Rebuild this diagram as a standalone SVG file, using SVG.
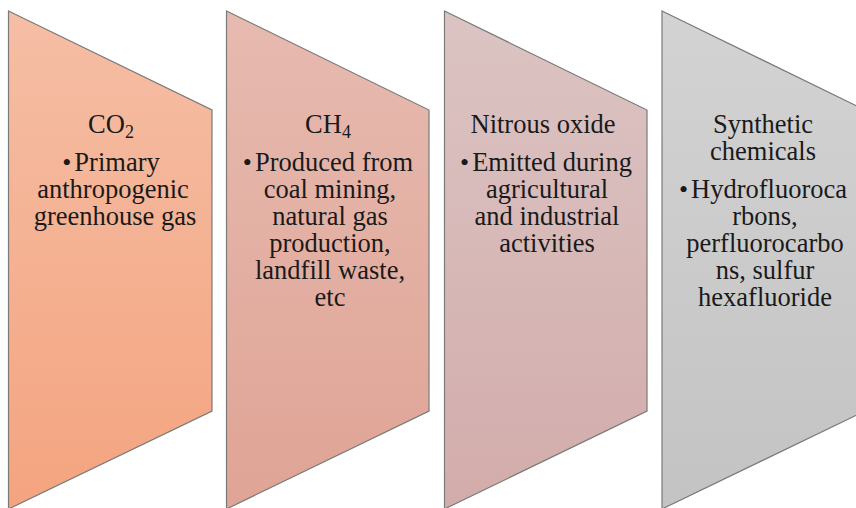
<svg xmlns="http://www.w3.org/2000/svg" width="856" height="508" viewBox="0 0 856 508">
<defs>
<linearGradient id="g1" x1="0" y1="0" x2="0" y2="1"><stop offset="0" stop-color="#F5BEA5"/><stop offset="1" stop-color="#F4A47F"/></linearGradient>
<linearGradient id="g2" x1="0" y1="0" x2="0" y2="1"><stop offset="0" stop-color="#E7BAB0"/><stop offset="1" stop-color="#DFA495"/></linearGradient>
<linearGradient id="g3" x1="0" y1="0" x2="0" y2="1"><stop offset="0" stop-color="#DBC4C3"/><stop offset="1" stop-color="#D2ACAB"/></linearGradient>
<linearGradient id="g4" x1="0" y1="0" x2="0" y2="1"><stop offset="0" stop-color="#D3D3D3"/><stop offset="1" stop-color="#C3C3C3"/></linearGradient>
</defs>
<style>
.s{stroke:#7a7a7a;stroke-width:1.2;stroke-linejoin:miter}
text{font-family:"Liberation Serif","Times New Roman",serif;font-size:26.5px;fill:#1a1a1a;text-anchor:middle}
.sub{font-size:18px}
.b{font-size:26px}
</style>
<g id="connectors"></g>
<g id="node-co2">
<polygon class="s" fill="url(#g1)" points="8.5,11 212,110 212,411 8.5,509"/>
<text x="111" y="133">CO<tspan class="sub" dy="5">2</tspan></text>
<text x="111" y="171"><tspan class="b">•</tspan><tspan dx="3">Primary</tspan></text>
<text x="113" y="198">anthropogenic</text>
<text x="115" y="225">greenhouse gas</text>
</g>
<g id="node-ch4">
<polygon class="s" fill="url(#g2)" points="226.5,11 429,110 429,411 226.5,509"/>
<text x="328" y="133">CH<tspan class="sub" dy="5">4</tspan></text>
<text x="328" y="171"><tspan class="b">•</tspan><tspan dx="3">Produced from</tspan></text>
<text x="330" y="198">coal mining,</text>
<text x="330" y="225">natural gas</text>
<text x="330" y="252">production,</text>
<text x="330" y="279">landfill waste,</text>
<text x="330" y="306">etc</text>
</g>
<g id="node-n2o">
<polygon class="s" fill="url(#g3)" points="444.5,11 647,110 647,411 444.5,509"/>
<text x="543" y="133">Nitrous oxide</text>
<text x="546" y="171"><tspan class="b">•</tspan><tspan dx="3">Emitted during</tspan></text>
<text x="547" y="198">agricultural</text>
<text x="547" y="225">and industrial</text>
<text x="547" y="252">activities</text>
</g>
<g id="node-synthetic">
<polygon class="s" fill="url(#g4)" points="662,11 865,110 865,411 662,509"/>
<text x="763" y="133">Synthetic</text>
<text x="763" y="160">chemicals</text>
<text x="763" y="198"><tspan class="b">•</tspan><tspan dx="3">Hydrofluoroca</tspan></text>
<text x="765" y="225">rbons,</text>
<text x="765" y="252">perfluorocarbo</text>
<text x="765" y="279">ns, sulfur</text>
<text x="765" y="306">hexafluoride</text>
</g>
</svg>
